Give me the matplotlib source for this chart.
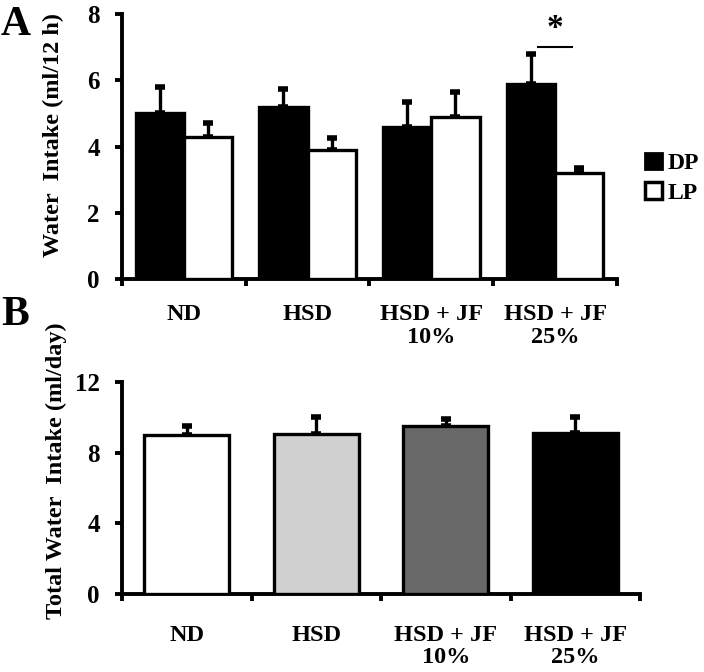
import matplotlib
matplotlib.use('Agg')
import matplotlib.pyplot as plt
import matplotlib.patches as mpatches
import numpy as np

plt.rcParams['font.family'] = 'Liberation Serif'
plt.rcParams['font.weight'] = 'bold'

GROUPS = ['ND', 'HSD', 'HSD + JF\n10%', 'HSD + JF\n25%']

# panel A: water intake per 12 h
DP_MEAN = [5.0, 5.2, 4.6, 5.9]
DP_ERR = [0.8, 0.55, 0.75, 0.9]
LP_MEAN = [4.3, 3.9, 4.9, 3.2]
LP_ERR = [0.4, 0.35, 0.75, 0.15]

# panel B: total water intake per day
TOTAL_MEAN = [9.0, 9.05, 9.5, 9.1]
TOTAL_ERR = [0.5, 0.95, 0.4, 0.9]
TOTAL_COLORS = ['white', '#d0d0d0', '#686868', 'black']

LW_AXIS = 2.8
LW_BAR = 2.4


def style_axes(ax, ymax, yticks):
    for side in ['top', 'right']:
        ax.spines[side].set_visible(False)
    for side in ['left', 'bottom']:
        ax.spines[side].set_linewidth(LW_AXIS)
    ax.set_xlim(-0.5, 3.5)
    ax.set_ylim(0, ymax)
    ax.set_yticks(yticks)
    ax.set_xticks([-0.5, 0.5, 1.5, 2.5, 3.5])
    ax.set_xticklabels([])
    ax.set_xticks(range(4), minor=True)
    ax.tick_params(axis='both', which='major', width=LW_AXIS, length=5,
                   labelsize=18)
    ax.tick_params(axis='x', which='minor', length=0, labelsize=17.5)
    ax.tick_params(axis='y', pad=11)


def err_bars(ax, xs, means, errs):
    ax.errorbar(xs, means, yerr=[np.zeros(len(means)), errs], fmt='none',
                ecolor='black', elinewidth=2.4, capsize=3.5, capthick=4,
                zorder=2)


fig = plt.figure(figsize=(7.04, 6.72), dpi=100)

# ---- panel A
axA = fig.add_axes([0.1733, 0.5848, 0.7031, 0.3942])
x = np.arange(len(GROUPS))
w = 0.39
axA.bar(x - w / 2, DP_MEAN, w, color='black', edgecolor='black',
        linewidth=LW_BAR, zorder=3)
axA.bar(x + w / 2, LP_MEAN, w, color='white', edgecolor='black',
        linewidth=LW_BAR, zorder=3)
err_bars(axA, x - w / 2, DP_MEAN, DP_ERR)
err_bars(axA, x + w / 2, LP_MEAN, LP_ERR)
style_axes(axA, 8, [0, 2, 4, 6, 8])
axA.set_xticklabels(GROUPS, minor=True, linespacing=1.15)
axA.tick_params(axis='x', which='minor', pad=18)

# significance marker
axA.plot([2.86, 3.14], [7.0, 7.0], color='black', lw=1.5)
axA.text(3.0, 7.1, '*', ha='center', va='bottom', fontsize=24)

handles = [mpatches.Patch(facecolor='black', edgecolor='black', lw=2, label='DP'),
           mpatches.Patch(facecolor='white', edgecolor='black', lw=2.5, label='LP')]
axA.legend(handles=handles, loc='center left', bbox_to_anchor=(1.057, 0.38),
           frameon=False, fontsize=17, handlelength=0.7, handleheight=0.7,
           handletextpad=0.25, labelspacing=0.35, borderaxespad=0,
           borderpad=0)

fig.text(0.076, 0.799, 'Water  Intake (ml/12 h)', rotation=90,
         ha='center', va='center', fontsize=17.5)
fig.text(0.022, 0.963, 'A', ha='center', va='center', fontsize=30)

# ---- panel B
axB = fig.add_axes([0.1733, 0.1161, 0.7358, 0.3155])
axB.bar(x, TOTAL_MEAN, 0.66, color=TOTAL_COLORS, edgecolor='black',
        linewidth=LW_BAR, zorder=3)
err_bars(axB, x, TOTAL_MEAN, TOTAL_ERR)
style_axes(axB, 12, [0, 4, 8, 12])
axB.set_xticklabels(GROUPS, minor=True, linespacing=1.1)
axB.tick_params(axis='x', which='minor', pad=22)

fig.text(0.080, 0.299, 'Total Water  Intake (ml/day)', rotation=90,
         ha='center', va='center', fontsize=17.5)
fig.text(0.022, 0.531, 'B', ha='center', va='center', fontsize=30)

fig.savefig('out.png', dpi=100)
